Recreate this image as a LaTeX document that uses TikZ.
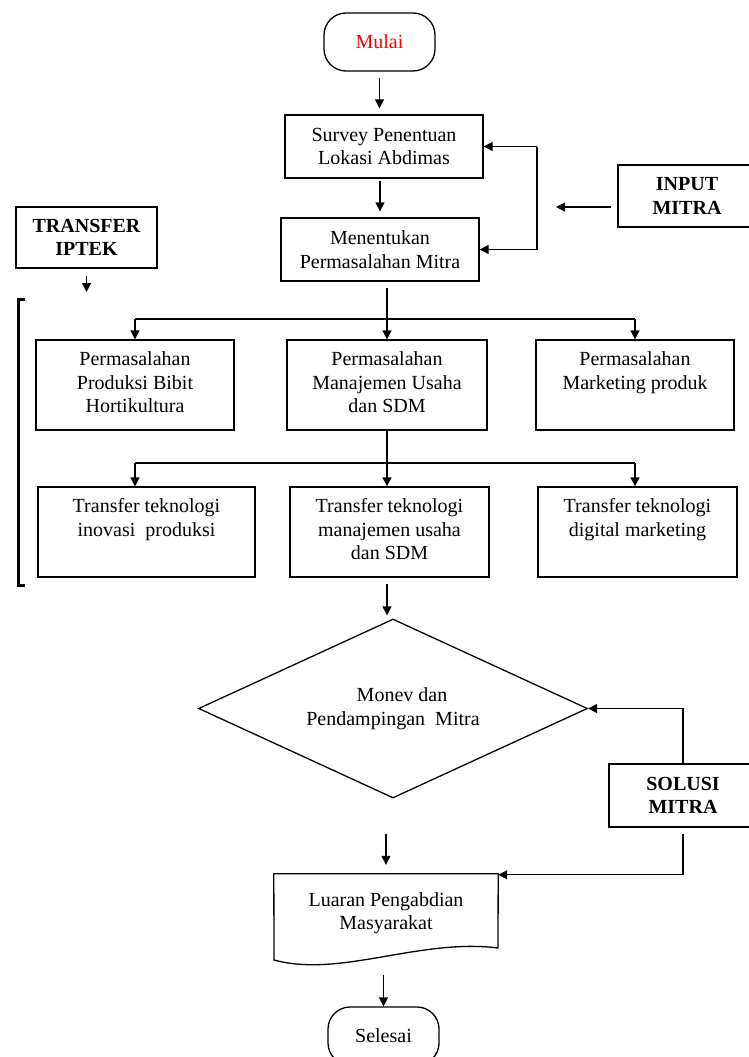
\documentclass[tikz,border=0pt]{standalone}
\usepackage{fontspec}
\setmainfont{Liberation Serif}
\usetikzlibrary{arrows.meta,shapes.geometric,calc}
\newcommand\topbx[3]{\parbox[c][#1][t]{#2}{\centering\strut #3}}
\begin{document}
\begin{tikzpicture}[x=1pt,y=-1pt,
  f/.style={font=\fontsize{20}{23.5}\selectfont},
  fb/.style={font=\fontsize{20}{23.5}\selectfont\bfseries},
  box/.style={draw, rectangle, line width=1.3pt, inner sep=0pt, align=center, f},
  tbox/.style={draw, rectangle, line width=1.3pt, inner xsep=2pt, inner ysep=9.5pt, f},
  term/.style={draw, rectangle, rounded corners=22pt, line width=1.3pt, inner sep=0pt, minimum width=111pt, minimum height=58pt, f},
  arr/.style={-{Triangle[length=9pt,width=9pt]}, line width=1.3pt},
  ln/.style={line width=1.3pt}]
\useasboundingbox (0,0) rectangle (749,1057);
\fill[white] (0,0) rectangle (749,1057);
\clip (0,0) rectangle (749,1057);

% nodes
\node[term, text=red] (mulai) at (379.5,42) {Mulai};
\node[box, minimum width=198pt, minimum height=63pt] (survey) at (384,146.5) {Survey Penentuan\\Lokasi Abdimas};
\node[box, minimum width=198pt, minimum height=63pt] (menentukan) at (380,249.5) {Menentukan\\Permasalahan Mitra};
\node[box, fb, minimum width=138pt, minimum height=62pt] (input) at (687,196) {INPUT\\MITRA};
\node[box, fb, minimum width=141pt, minimum height=61pt] (transfer) at (86.5,237.5) {TRANSFER\\IPTEK};

\node[tbox] (p1) at (135,385) {\topbx{71pt}{194pt}{Permasalahan\\Produksi Bibit\\Hortikultura}};
\node[tbox] (p2) at (387,385) {\topbx{71pt}{196pt}{Permasalahan\\Manajemen Usaha\\dan SDM}};
\node[tbox] (p3) at (635,385) {\topbx{71pt}{194pt}{Permasalahan\\Marketing produk}};

\node[tbox] (t1) at (146.5,532) {\topbx{71pt}{213pt}{Transfer teknologi\\inovasi\hspace{5pt} produksi}};
\node[tbox] (t2) at (389.5,532) {\topbx{71pt}{195pt}{Transfer teknologi\\manajemen usaha\\dan SDM}};
\node[tbox] (t3) at (637.5,532) {\topbx{71pt}{195pt}{Transfer teknologi\\digital marketing}};

\node[draw, diamond, aspect=2.17, line width=1.3pt, minimum width=389pt, minimum height=179pt, inner sep=0pt, align=center, f] (monev) at (393,708.5) {\hspace{18pt}Monev dan\\Pendampingan\hspace{5pt} Mitra};

\node[box, fb, minimum width=148pt, minimum height=63pt] (solusi) at (683,795.5) {SOLUSI\\MITRA};

\node[inner sep=0pt, minimum width=224pt, minimum height=78pt, align=center, f] (luaran) at (386,913) {Luaran Pengabdian\\Masyarakat};
\draw[ln] (274,960) -- (luaran.north west) -- (luaran.north east) -- (498,948) .. controls (420,938) and (340,978) .. (274,960) -- cycle;

\node[term] (selesai) at (383.5,1036) {Selesai};

% bracket
\draw[line width=3pt] (25,299) -- (18,299) -- (18,585) -- (25,585);

% connectors
\draw[arr, shorten <=6pt, shorten >=6pt] (mulai.south) -- (mulai.south |- survey.north);
\draw[arr, shorten <=2pt, shorten >=6pt] (survey.south -| menentukan.north) -- (menentukan.north);

\coordinate (fb) at (537,0);
\draw[ln] (fb |- survey.east) -- (fb |- menentukan.east);
\draw[arr] (fb |- survey.east) -- (survey.east);
\draw[arr] (fb |- menentukan.east) -- (menentukan.east);

\coordinate (intip) at (556,207);
\draw[arr] ([xshift=-6pt,yshift=-11pt]input.west) -- (intip);

\coordinate (trtip) at (86.5,292);
\draw[arr, shorten <=7pt] (transfer.south) -- (trtip);

\coordinate (h1) at (0,319);
\draw[arr, shorten <=6pt] (menentukan.south -| p2.north) -- (p2.north);
\draw[ln] (p1.north |- h1) -- (p3.north |- h1);
\draw[arr] (p1.north |- h1) -- (p1.north);
\draw[arr] (p3.north |- h1) -- (p3.north);

\coordinate (h2) at (0,463);
\draw[arr] (p2.south) -- (p2.south |- t2.north);
\draw[ln] (p1.south |- h2) -- (p3.south |- h2);
\draw[arr] (p1.south |- h2) -- (p1.south |- t1.north);
\draw[arr] (p3.south |- h2) -- (p3.south |- t3.north);

\draw[arr, shorten <=6pt, shorten >=3pt] (p2.south |- t2.south) -- (p2.south |- monev.north);
\draw[arr, shorten <=35pt, shorten >=9pt] (luaran.north |- monev.south) -- (luaran.north);
\draw[arr, shorten <=23pt] (luaran.south -| selesai.north) -- (selesai.north);
\draw[arr] (solusi.north) |- (monev.east);
\draw[arr, shorten <=6pt] (solusi.south) |- ([yshift=-1pt]luaran.north east);
\end{tikzpicture}
\end{document}
